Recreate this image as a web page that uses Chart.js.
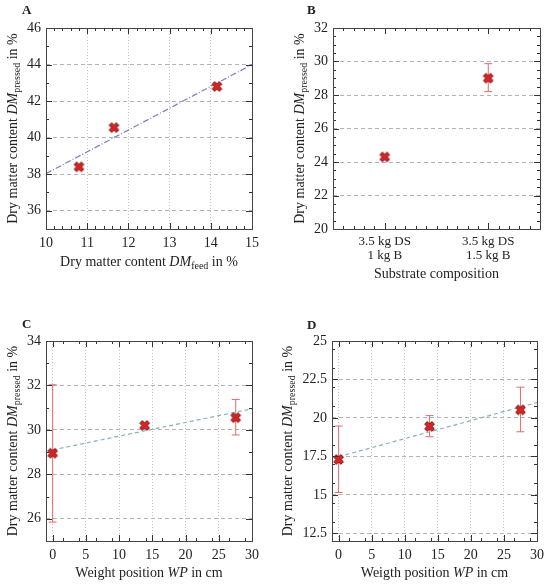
<!DOCTYPE html>
<html><head><meta charset="utf-8">
<script src="https://cdn.jsdelivr.net/npm/chart.js@4.4.0/dist/chart.umd.min.js"></script>
<style>
html,body{margin:0;padding:0;background:#fff;}
body{width:550px;height:585px;position:relative;overflow:hidden;}
.p{position:absolute;}
</style></head><body>
<div class="p" style="left:0;top:0;width:275px;height:292px"><canvas id="cA"></canvas></div>
<div class="p" style="left:275px;top:0;width:275px;height:292px"><canvas id="cB"></canvas></div>
<div class="p" style="left:0;top:292px;width:275px;height:293px"><canvas id="cC"></canvas></div>
<div class="p" style="left:275px;top:292px;width:275px;height:293px"><canvas id="cD"></canvas></div>
<script>
// ---------- DATA ----------
// Panel A
const feedA = [10.8, 11.65, 14.15];
const pressedA = [38.4, 40.55, 42.8];
const trendAx = [10, 15];
const trendAy = [38.03, 44.0];
const xTicksA = [10, 11, 12, 13, 14, 15];
const yTicksA = [36, 38, 40, 42, 44, 46];

// Panel B
const categoriesB = [["3.5 kg DS", "1 kg B"], ["3.5 kg DS", "1.5 kg B"]];
const pressedB = [24.3, 29.0];
const errLowB = [null, 28.2];
const errHighB = [null, 29.87];
const yTicksB = [20, 22, 24, 26, 28, 30, 32];

// Panel C
const positionC = [0, 13.85, 27.55];
const pressedC = [28.95, 30.2, 30.55];
const errLowC = [25.85, null, 29.77];
const errHighC = [32.03, null, 31.37];
const trendCx = [0, 30];
const trendCy = [29.1, 30.95];
const xTicksC = [0, 5, 10, 15, 20, 25, 30];
const yTicksC = [26, 28, 30, 32, 34];

// Panel D
const positionD = [0, 13.75, 27.5];
const pressedD = [17.3, 19.45, 20.52];
const errLowD = [15.15, 18.78, 19.1];
const errHighD = [19.47, 20.15, 22.0];
const trendDx = [0, 30];
const trendDy = [17.48, 21.0];
const xTicksD = [0, 5, 10, 15, 20, 25, 30];
const yTicksD = [12.5, 15, 17.5, 20, 22.5, 25];

// ---------- STYLE ----------
const SERIF = "'Liberation Serif', 'DejaVu Serif', serif";
const TXT = '#222';

function makeMarker() {
  const c = document.createElement('canvas');
  const s = 13; c.width = s; c.height = s;
  const g = c.getContext('2d');
  const w = 1.8, L = 5.1;
  const pts = [[-w,-L],[w,-L],[w,-w],[L,-w],[L,w],[w,w],[w,L],[-w,L],[-w,w],[-L,w],[-L,-w],[-w,-w]];
  const a = Math.PI / 4, ca = Math.cos(a), sa = Math.sin(a);
  g.beginPath();
  pts.forEach((p, i) => {
    const x = s/2 + p[0]*ca - p[1]*sa, y = s/2 + p[0]*sa + p[1]*ca;
    if (i === 0) g.moveTo(x, y); else g.lineTo(x, y);
  });
  g.closePath();
  g.fillStyle = '#d42424';
  g.fill();
  g.lineWidth = 1;
  g.strokeStyle = '#7a1414';
  g.stroke();
  return c;
}
const MARK = makeMarker();

function fontOf(seg, size) {
  const sz = seg.sub ? Math.round(size * 0.68) : size;
  return (seg.it ? 'italic ' : '') + sz + 'px ' + SERIF;
}
function drawRich(ctx, segs, x, y, size, rot) {
  ctx.save();
  ctx.translate(x, y);
  if (rot) ctx.rotate(-Math.PI / 2);
  let total = 0;
  segs.forEach(s => { ctx.font = fontOf(s, size); total += ctx.measureText(s.t).width; });
  let cx = -total / 2;
  ctx.textBaseline = 'middle';
  ctx.textAlign = 'left';
  ctx.fillStyle = TXT;
  segs.forEach(s => {
    ctx.font = fontOf(s, size);
    ctx.fillText(s.t, cx, s.sub ? size * 0.28 : 0);
    cx += ctx.measureText(s.t).width;
  });
  ctx.restore();
}

const yTitle = [{t: 'Dry matter content '}, {t: 'DM', it: true}, {t: 'pressed', sub: true}, {t: ' in %'}];

const decoPlugin = {
  id: 'deco',
  beforeDatasetsDraw(chart) {
    const o = chart.options.plugins.deco;
    const ctx = chart.ctx, ys = chart.scales.y;
    if (!o.errLow) return;
    const meta = chart.getDatasetMeta(0);
    ctx.save();
    ctx.strokeStyle = '#e46a6a';
    ctx.lineWidth = 1;
    o.errLow.forEach((lo, i) => {
      const hi = o.errHigh[i];
      if (lo == null || hi == null) return;
      const x = meta.data[i].x;
      const y1 = ys.getPixelForValue(lo), y2 = ys.getPixelForValue(hi);
      ctx.beginPath();
      ctx.moveTo(x, y1); ctx.lineTo(x, y2);
      ctx.moveTo(x - 4, y1); ctx.lineTo(x + 4, y1);
      ctx.moveTo(x - 4, y2); ctx.lineTo(x + 4, y2);
      ctx.stroke();
    });
    ctx.restore();
  },
  afterDraw(chart) {
    const o = chart.options.plugins.deco;
    const ctx = chart.ctx, a = chart.chartArea;
    const xs = chart.scales.x, ys = chart.scales.y;
    ctx.save();
    ctx.strokeStyle = '#333';
    ctx.lineWidth = 1;
    ctx.beginPath();
    const tickX = (px, len) => {
      ctx.moveTo(px, a.bottom); ctx.lineTo(px, a.bottom - len);
      ctx.moveTo(px, a.top); ctx.lineTo(px, a.top + len);
    };
    const tickY = (py, len) => {
      ctx.moveTo(a.left, py); ctx.lineTo(a.left + len, py);
      ctx.moveTo(a.right, py); ctx.lineTo(a.right - len, py);
    };
    if (o.xMinorFrac) {
      for (let f = 0; f <= 1.0001; f += o.xMinorFrac) tickX(Math.round(a.left + f * (a.right - a.left)) + 0.5, 3);
      xs.ticks.forEach((t, i) => tickX(Math.round(xs.getPixelForTick(i)) + 0.5, 6));
    } else {
      for (let v = xs.min; v <= xs.max + 1e-9; v += o.xMinor) tickX(Math.round(xs.getPixelForValue(v)) + 0.5, 3);
      xs.ticks.forEach(t => tickX(Math.round(xs.getPixelForValue(t.value)) + 0.5, 6));
    }
    for (let v = ys.min; v <= ys.max + 1e-9; v += o.yMinor) tickY(Math.round(ys.getPixelForValue(v)) + 0.5, 3);
    ys.ticks.forEach(t => tickY(Math.round(ys.getPixelForValue(t.value)) + 0.5, 6));
    ctx.stroke();
    ctx.strokeStyle = '#444';
    ctx.strokeRect(Math.round(a.left) + 0.5, Math.round(a.top) + 0.5, Math.round(a.right - a.left), Math.round(a.bottom - a.top));
    ctx.restore();
    const cxm = (a.left + a.right) / 2, cym = (a.top + a.bottom) / 2;
    drawRich(ctx, o.xTitle, cxm, o.xTitleY, 14, false);
    drawRich(ctx, yTitle, o.yTitleX, cym, 14, true);
    ctx.save();
    ctx.font = 'bold 13px ' + SERIF;
    ctx.fillStyle = TXT;
    ctx.textBaseline = 'middle';
    ctx.fillText(o.letter, o.letterX, o.letterY);
    ctx.restore();
  }
};
Chart.register(decoPlugin);

function fixedTicks(arr) { return function (scale) { scale.ticks = arr.map(v => ({value: v})); }; }

function yScale(min, max, ticks, width) {
  return {
    type: 'linear', min: min, max: max,
    afterBuildTicks: fixedTicks(ticks),
    afterFit: s => { s.width = width; },
    grid: {color: '#b4b4b4', lineWidth: 1, drawTicks: false},
    border: {display: false, dash: [4, 3]},
    ticks: {color: TXT, font: {family: SERIF, size: 14}, padding: 5, callback: v => String(v)}
  };
}
function xScale(min, max, ticks, height) {
  return {
    type: 'linear', min: min, max: max,
    afterBuildTicks: fixedTicks(ticks),
    afterFit: s => { s.height = height; },
    grid: {color: '#c4c4c4', lineWidth: 1, drawTicks: false},
    border: {display: false, dash: [1, 2]},
    ticks: {color: TXT, font: {family: SERIF, size: 14}, padding: 6, maxRotation: 0, callback: v => String(v)}
  };
}

function pts(xa, ya) { return xa.map((x, i) => ({x: x, y: ya[i]})); }

function markerDs(data) {
  return {type: 'scatter', data: data, pointStyle: MARK, pointRadius: 6, order: 0};
}
function trendDs(data, color, dash) {
  return {type: 'line', data: data, borderColor: color, borderWidth: 1.2, borderDash: dash, pointRadius: 0, fill: false, order: 1};
}

const common = {
  responsive: true, maintainAspectRatio: false, animation: false,
  devicePixelRatio: 1
};

function cfg(extra, deco, padding) {
  return Object.assign({}, common, extra, {
    layout: {padding: padding},
    plugins: {legend: {display: false}, tooltip: {enabled: false}, deco: deco}
  });
}

// Panel A
new Chart(document.getElementById('cA'), {
  type: 'scatter',
  data: {datasets: [markerDs(pts(feedA, pressedA)), trendDs(pts(trendAx, trendAy), '#7b7bc4', [6, 2, 1, 2])]},
  options: cfg({scales: {x: xScale(10, 15, xTicksA, 63), y: yScale(35, 46, yTicksA, 46)}},
    {letter: 'A', letterX: 22, letterY: 11, xTitle: [{t: 'Dry matter content '}, {t: 'DM', it: true}, {t: 'feed', sub: true}, {t: ' in %'}],
     xTitleY: 262, yTitleX: 13, xMinor: 0.2, yMinor: 1},
    {left: 0, top: 28, right: 23, bottom: 0})
});

// Panel B
new Chart(document.getElementById('cB'), {
  type: 'scatter',
  data: {labels: categoriesB, datasets: [{type: 'scatter', data: pressedB, pointStyle: MARK, pointRadius: 6, order: 0}]},
  options: cfg({scales: {
    x: {type: 'category', offset: true, afterFit: s => { s.height = 63; },
        grid: {display: false, drawTicks: false}, border: {display: false},
        ticks: {color: TXT, font: {family: SERIF, size: 13, lineHeight: 1.05}, padding: 6, maxRotation: 0}},
    y: yScale(20, 32, yTicksB, 58)}},
    {letter: 'B', letterX: 32, letterY: 11, xTitle: [{t: 'Substrate composition'}],
     xTitleY: 274, yTitleX: 25, xMinorFrac: 0.05, yMinor: 0.5, errLow: errLowB, errHigh: errHighB},
    {left: 0, top: 28, right: 10, bottom: 0})
});

// Panel C
new Chart(document.getElementById('cC'), {
  type: 'scatter',
  data: {datasets: [markerDs(pts(positionC, pressedC)), trendDs(pts(trendCx, trendCy), '#86aec4', [4, 3])]},
  options: cfg({scales: {x: xScale(-1, 30, xTicksC, 44), y: yScale(25, 34, yTicksC, 46)}},
    {letter: 'C', letterX: 22, letterY: 33, xTitle: [{t: 'Weight position '}, {t: 'WP', it: true}, {t: ' in cm'}],
     xTitleY: 281, yTitleX: 13, xMinor: 2.5, yMinor: 1, errLow: errLowC, errHigh: errHighC},
    {left: 0, top: 49, right: 23, bottom: 0})
});

// Panel D
new Chart(document.getElementById('cD'), {
  type: 'scatter',
  data: {datasets: [markerDs(pts(positionD, pressedD)), trendDs(pts(trendDx, trendDy), '#86aec4', [4, 3])]},
  options: cfg({scales: {x: xScale(-1, 30, xTicksD, 44), y: yScale(12, 25, yTicksD, 57)}},
    {letter: 'D', letterX: 32, letterY: 34, xTitle: [{t: 'Weigth position '}, {t: 'WP', it: true}, {t: ' in cm'}],
     xTitleY: 281, yTitleX: 13, xMinor: 2.5, yMinor: 1.25, errLow: errLowD, errHigh: errHighD},
    {left: 0, top: 49, right: 10, bottom: 0})
});
</script>
</body></html>
